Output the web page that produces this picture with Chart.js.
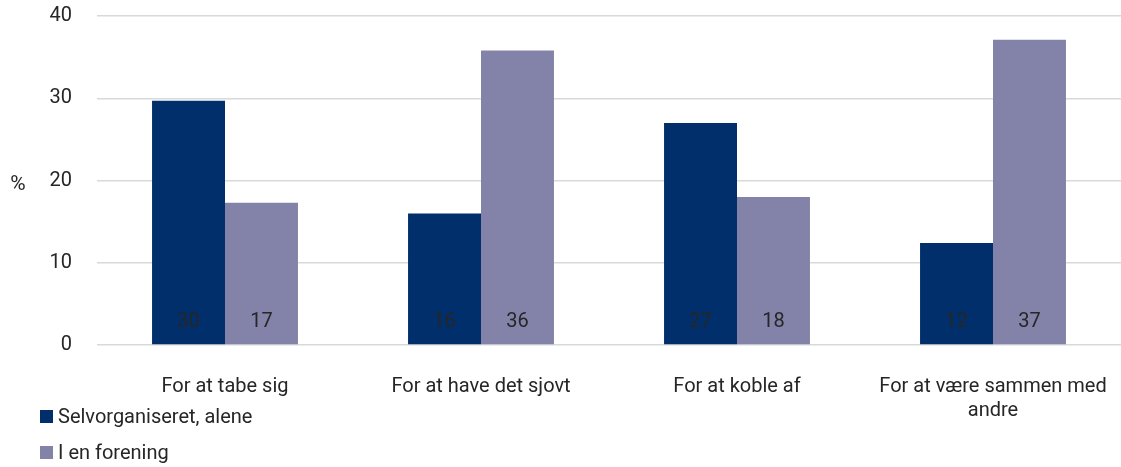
<!DOCTYPE html>
<html>
<head>
<meta charset="utf-8">
<script src="https://cdn.jsdelivr.net/npm/chart.js@4"></script>
<style>
html,body{margin:0;padding:0;background:#fff;overflow:hidden;}
#wrap{position:relative;width:1121px;height:467px;}
canvas{display:block;}
#legend{position:absolute;left:40px;top:398px;font-family:Roboto,sans-serif;font-size:20px;color:#262626;}
#legend div{display:flex;align-items:center;height:36px;}
#legend span.box{display:inline-block;width:13px;height:13px;margin-right:5px;}
</style>
</head>
<body>
<div id="wrap"><canvas id="c" width="1121" height="467"></canvas><div id="legend"></div></div>
<script>
const categories = ["For at tabe sig", "For at have det sjovt", "For at koble af", ["For at være sammen med", "andre"]];
const seriesNames = ["Selvorganiseret, alene", "I en forening"];
const selvorganiseret = [29.7, 16.0, 27.0, 12.4];
const forening = [17.3, 35.8, 18.0, 37.1];
const yTicks = [0, 10, 20, 30, 40];
const colors = ["#002F6C", "#8383AA"];

const FONT = "Roboto, sans-serif";
const FS = 20;

const valueLabels = {
  id: 'valueLabels',
  afterDatasetsDraw(chart) {
    const ctx = chart.ctx;
    ctx.save();
    ctx.font = FS + "px " + FONT;
    ctx.fillStyle = "#262626";
    ctx.textAlign = "center";
    ctx.textBaseline = "middle";
    chart.data.datasets.forEach((ds, i) => {
      chart.getDatasetMeta(i).data.forEach((bar, j) => {
        ctx.fillText(String(Math.round(ds.data[j])), bar.x, bar.base - 22);
      });
    });
    ctx.restore();
  }
};
const pctTitle = {
  id: 'pctTitle',
  afterDraw(chart) {
    const ctx = chart.ctx;
    ctx.save();
    ctx.font = "21px " + FONT;
    ctx.fillStyle = "#262626";
    ctx.textAlign = "center";
    ctx.textBaseline = "middle";
    ctx.fillText("%", 18, chart.scales.y.getPixelForValue(20) + 4);
    ctx.restore();
  }
};

const chart = new Chart(document.getElementById('c'), {
  type: 'bar',
  data: {
    labels: categories,
    datasets: [
      { label: seriesNames[0], data: selvorganiseret, backgroundColor: colors[0] },
      { label: seriesNames[1], data: forening, backgroundColor: colors[1] }
    ]
  },
  options: {
    responsive: false,
    animation: false,
    layout: { padding: { left: 0, right: -4, top: 16, bottom: 0 } },
    plugins: { legend: { display: false }, tooltip: { enabled: false } },
    datasets: { bar: { categoryPercentage: 0.57, barPercentage: 1.0 } },
    scales: {
      x: {
        grid: { display: false },
        border: { display: false },
        afterFit(axis) { axis.height = 122; axis.paddingLeft = 0; axis.paddingRight = 0; },
        ticks: { font: { family: FONT, size: FS }, color: "#262626", padding: 22, maxRotation: 0, autoSkip: false }
      },
      y: {
        min: 0, max: 40,
        afterBuildTicks(axis) { axis.ticks = yTicks.map(v => ({ value: v })); },
        afterFit(axis) { axis.width = 97; axis.paddingTop = 0; axis.paddingBottom = 0; },
        grid: { color: "#D9D9D9", lineWidth: 1.5, drawTicks: false },
        border: { display: false },
        ticks: { font: { family: FONT, size: FS }, color: "#262626", padding: 25 }
      }
    }
  },
  plugins: [valueLabels, pctTitle]
});

const leg = document.getElementById('legend');
chart.data.datasets.forEach(ds => {
  const d = document.createElement('div');
  d.innerHTML = '<span class="box" style="background:' + ds.backgroundColor + '"></span>' + ds.label;
  leg.appendChild(d);
});
</script>
</body>
</html>
